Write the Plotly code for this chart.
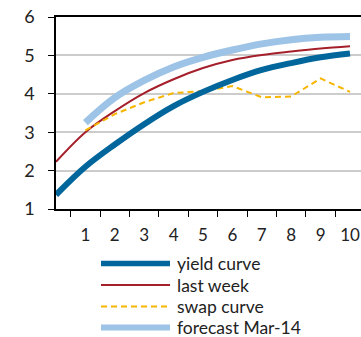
import plotly.graph_objects as go

# ---- data ----
maturity = [0, 1, 2, 3, 4, 5, 6, 7, 8, 9, 10]
yield_curve = [1.37, 2.1, 2.68, 3.21, 3.68, 4.05, 4.36, 4.62, 4.8, 4.95, 5.05]
last_week = [2.23, 3.0, 3.55, 4.02, 4.38, 4.67, 4.88, 5.01, 5.1, 5.18, 5.24]
swap_x = [1, 2, 3, 4, 5, 6, 7, 8, 9, 10]
swap_curve = [3.05, 3.47, 3.78, 4.02, 4.07, 4.2, 3.91, 3.93, 4.4, 4.05]
forecast_x = [1, 2, 3, 4, 5, 6, 7, 8, 9, 10]
forecast = [3.25, 3.9, 4.35, 4.7, 4.95, 5.14, 5.3, 5.41, 5.47, 5.49]
x_tick_labels = ["1", "2", "3", "4", "5", "6", "7", "8", "9", "10"]
y_ticks = [1, 2, 3, 4, 5, 6]

series_names = ["yield curve", "last week", "swap curve", "forecast Mar-14"]
colors = ["#00669B", "#A51F2B", "#F7B500", "#9DC3E6"]
widths = [6, 2, 2, 7]
legend_widths = [5.5, 2, 2, 6]
dashes = ["solid", "solid", "6px,4px", "solid"]

W, H = 361, 337
ML, MR, MT, MB = 56, 0, 17, 128
PW = W - ML - MR
PH = H - MT - MB
unit = 29.4

FONT = "Lato"

fig = go.Figure()
fig.add_trace(go.Scatter(x=forecast_x, y=forecast, mode="lines",
                         line=dict(color=colors[3], width=widths[3], shape="spline"),
                         showlegend=False))
fig.add_trace(go.Scatter(x=maturity, y=last_week, mode="lines",
                         line=dict(color=colors[1], width=widths[1], shape="spline"),
                         showlegend=False))
fig.add_trace(go.Scatter(x=swap_x, y=swap_curve, mode="lines",
                         line=dict(color=colors[2], width=widths[2], dash=dashes[2]),
                         showlegend=False))
fig.add_trace(go.Scatter(x=maturity, y=yield_curve, mode="lines",
                         line=dict(color=colors[0], width=widths[0], shape="spline"),
                         showlegend=False))

def px_x(p):
    return (p - ML) / PW

def px_y(p):
    return (H - MB - p) / PH

shapes = []
annotations = []
legend_rows = [263.5, 285, 306.5, 327.5]
for i, name in enumerate(series_names):
    yy = px_y(legend_rows[i])
    shapes.append(dict(type="line", xref="paper", yref="paper",
                       x0=px_x(101), x1=px_x(170), y0=yy, y1=yy,
                       line=dict(color=colors[i], width=legend_widths[i],
                                 dash=dashes[i])))
    annotations.append(dict(text=name, xref="paper", yref="paper",
                            x=px_x(175), y=yy, xanchor="left", yanchor="middle",
                            showarrow=False,
                            font=dict(family=FONT, size=17.5, color="#222222")))

fig.update_layout(
    width=W, height=H,
    margin=dict(l=ML, r=MR, t=MT, b=MB, pad=0),
    paper_bgcolor="white", plot_bgcolor="white",
    font=dict(family=FONT, size=17, color="#222222"),
    shapes=shapes, annotations=annotations,
    xaxis=dict(range=[0, PW / unit], tickmode="array",
               tickvals=[int(t) for t in x_tick_labels], ticktext=x_tick_labels,
               ticks="", showgrid=False, zeroline=False,
               showline=True, linecolor="black", linewidth=1.5, mirror=True,
               ticklabelstandoff=10,
               tickfont=dict(family=FONT, size=17, color="#222222"),
               minor=dict(tickmode="array",
                          tickvals=[int(t) - 0.5 for t in x_tick_labels],
                          ticks="outside", ticklen=6, tickwidth=1.2,
                          tickcolor="black", showgrid=False)),
    yaxis=dict(range=[1, 6], tickmode="array", tickvals=y_ticks,
               ticks="outside", ticklen=6, tickwidth=1.2, tickcolor="black",
               showgrid=True, gridcolor="#CCCCCC", gridwidth=1.5,
               zeroline=False, showline=True, linecolor="black", linewidth=1.5,
               ticklabelstandoff=10,
               tickfont=dict(family=FONT, size=18, color="#222222")),
)

fig.write_html("out.html",
               config={"displayModeBar": False},
               post_script="document.body.style.margin='0';"
                           "document.body.style.overflow='hidden';")
